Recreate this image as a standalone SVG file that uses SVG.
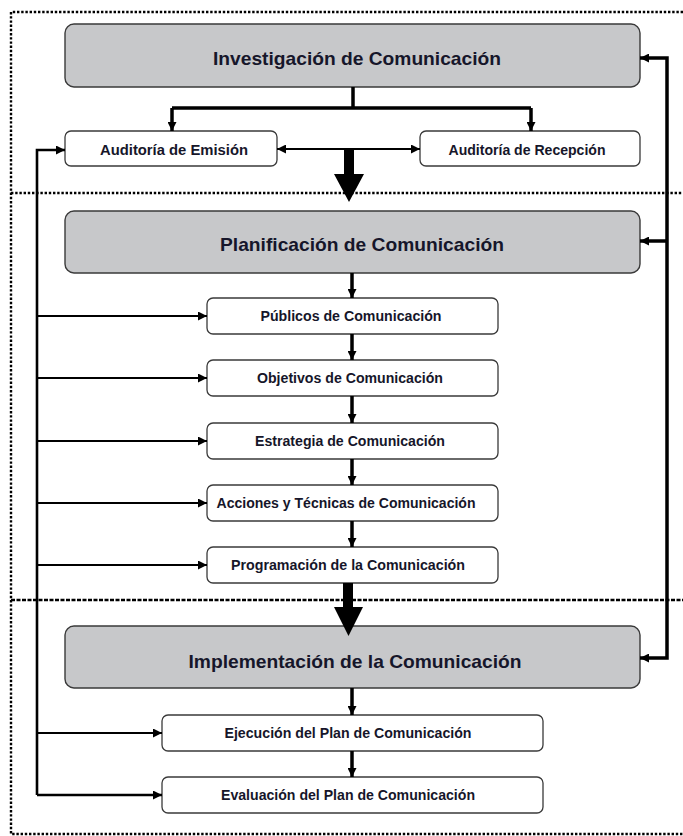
<svg xmlns="http://www.w3.org/2000/svg" width="683" height="836" viewBox="0 0 683 836">
<defs>
<marker id="ah" viewBox="0 0 10 10" refX="10" refY="5" markerUnits="userSpaceOnUse" markerWidth="9" markerHeight="9" orient="auto-start-reverse"><path d="M0,0 L10,5 L0,10 z" fill="#000"/></marker>
<style>
.big rect{fill:#c7c8ca;stroke:#3a3a3a;stroke-width:1.4}
.small rect{fill:#fff;stroke:#3a3a3a;stroke-width:1.3}
text{font-family:"Liberation Sans",Arial,sans-serif;font-weight:bold;fill:#16162a;text-anchor:middle}
.big text{font-size:18.5px}
.small text{font-size:14px}
.dot{fill:none;stroke:#000;stroke-width:2.4;stroke-dasharray:2.4 1.8}
.thick{fill:none;stroke:#000;stroke-width:3.5}
.thin{fill:none;stroke:#000;stroke-width:2}
.bus{fill:none;stroke:#000;stroke-width:2.6}
</style>
</defs>
<g id="frame">
<path class="dot" d="M683 12 H11 V834 H683"/>
<path class="dot" d="M11 193 H683"/>
<path class="dot" d="M11 600 H683" style="stroke-dasharray:4 1.5"/>
</g>
<g id="investigacion" class="big"><rect x="65" y="24" width="575" height="63" rx="9"/><text x="357" y="65" textLength="288" lengthAdjust="spacingAndGlyphs">Investigación de Comunicación</text></g>
<g id="emision" class="small"><rect x="65" y="131" width="212" height="35" rx="6"/><text x="174" y="155" textLength="148" lengthAdjust="spacingAndGlyphs">Auditoría de Emisión</text></g>
<g id="recepcion" class="small"><rect x="420" y="131" width="220" height="35" rx="6"/><text x="527" y="155" textLength="157" lengthAdjust="spacingAndGlyphs">Auditoría de Recepción</text></g>
<g id="planificacion" class="big"><rect x="65" y="211" width="575" height="62" rx="9"/><text x="362" y="251" textLength="284" lengthAdjust="spacingAndGlyphs">Planificación de Comunicación</text></g>
<g id="publicos" class="small"><rect x="207" y="298" width="291" height="36" rx="6"/><text x="351" y="321" textLength="181" lengthAdjust="spacingAndGlyphs">Públicos de Comunicación</text></g>
<g id="objetivos" class="small"><rect x="207" y="360" width="291" height="36" rx="6"/><text x="350" y="383" textLength="186" lengthAdjust="spacingAndGlyphs">Objetivos de Comunicación</text></g>
<g id="estrategia" class="small"><rect x="207" y="423" width="291" height="36" rx="6"/><text x="350" y="446" textLength="190" lengthAdjust="spacingAndGlyphs">Estrategia de Comunicación</text></g>
<g id="acciones" class="small"><rect x="207" y="485" width="291" height="36" rx="6"/><text x="346" y="508" textLength="259" lengthAdjust="spacingAndGlyphs">Acciones y Técnicas de Comunicación</text></g>
<g id="programacion" class="small"><rect x="207" y="547" width="291" height="36" rx="6"/><text x="348" y="570" textLength="234" lengthAdjust="spacingAndGlyphs">Programación de la Comunicación</text></g>
<g id="implementacion" class="big"><rect x="65" y="626" width="575" height="62" rx="9"/><text x="355" y="668" textLength="333" lengthAdjust="spacingAndGlyphs">Implementación de la Comunicación</text></g>
<g id="ejecucion" class="small"><rect x="162" y="715" width="381" height="36" rx="6"/><text x="348" y="738" textLength="247" lengthAdjust="spacingAndGlyphs">Ejecución del Plan de Comunicación</text></g>
<g id="evaluacion" class="small"><rect x="162" y="777" width="381" height="36" rx="6"/><text x="348" y="800" textLength="254" lengthAdjust="spacingAndGlyphs">Evaluación del Plan de Comunicación</text></g>
<g id="connectors">
<path class="thick" d="M353 87 V108 M172 108 H531"/>
<path class="thick" d="M172 108 V131" marker-end="url(#ah)"/>
<path class="thick" d="M531 108 V131" marker-end="url(#ah)"/>
<path class="thin" d="M277 149 H420" marker-start="url(#ah)" marker-end="url(#ah)"/>
<path d="M344 149 H354 V174 H364 L349 202 L334 174 H344 Z" fill="#000"/>
<path class="thick" d="M352 273 V298" marker-end="url(#ah)"/>
<path class="thick" d="M352 334 V360" marker-end="url(#ah)"/>
<path class="thick" d="M352 396 V423" marker-end="url(#ah)"/>
<path class="thick" d="M352 459 V485" marker-end="url(#ah)"/>
<path class="thick" d="M352 521 V547" marker-end="url(#ah)"/>
<path d="M343 583 H353 V607 H363 L348.5 636 L334 607 H343 Z" fill="#000"/>
<path class="thick" d="M352 688 V715" marker-end="url(#ah)"/>
<path class="thick" d="M352 751 V777" marker-end="url(#ah)"/>
<path class="bus" d="M37 795 V150 H65" marker-end="url(#ah)"/>
<path class="bus" d="M37 795 H162" marker-end="url(#ah)"/>
<path class="thin" d="M37 316 H207" marker-end="url(#ah)"/>
<path class="thin" d="M37 378 H207" marker-end="url(#ah)"/>
<path class="thin" d="M37 441 H207" marker-end="url(#ah)"/>
<path class="thin" d="M37 503 H207" marker-end="url(#ah)"/>
<path class="thin" d="M37 565 H207" marker-end="url(#ah)"/>
<path class="thin" d="M37 733 H162" marker-end="url(#ah)"/>
<path class="thick" d="M667 241 V58 H640" marker-end="url(#ah)"/>
<path class="thick" d="M667 241 H640" marker-end="url(#ah)"/>
<path class="thick" d="M667 241 V658 H640" marker-end="url(#ah)"/>
</g>
</svg>
